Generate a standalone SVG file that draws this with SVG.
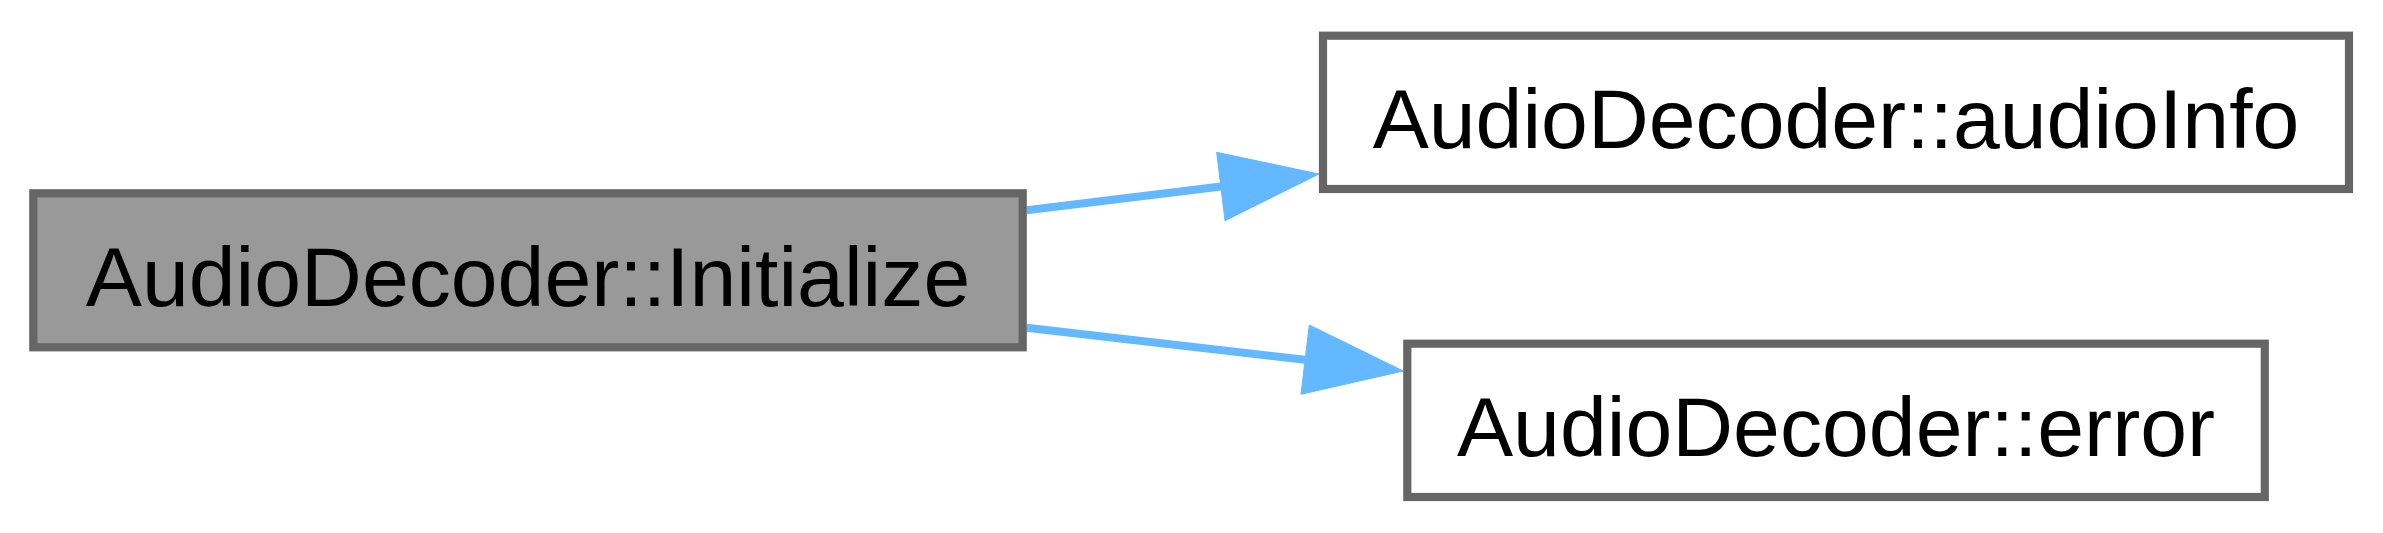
<svg xmlns="http://www.w3.org/2000/svg" width="2383" height="533" viewBox="0 0 2383 533">
<style>
.node rect{stroke:#666666;stroke-width:8.2}
.n1 rect{fill:#999999}
.n2 rect{fill:#ffffff}
.node text{font-family:"Liberation Sans",Arial,Helvetica,sans-serif;font-size:84.2px;fill:#000000;text-anchor:middle}
.edge path{fill:none;stroke:#63b8ff;stroke-width:8}
.edge polygon{fill:#63b8ff;stroke:#63b8ff;stroke-width:1}
</style>
<rect width="2383" height="533" fill="#ffffff"/>
<g id="connectors">
<g class="edge" id="edge1">
<path d="M1026.7,210.3 L1221,186.5"/>
<polygon points="1216.7,152.3 1319,174 1225,220.7"/>
</g>
<g class="edge" id="edge2">
<path d="M1026.7,327.7 L1305,359.8"/>
<polygon points="1309.3,325 1403.3,371 1301,394.3"/>
</g>
</g>
<g class="node n1" id="node1">
<rect x="33.3" y="193.3" width="989.4" height="154"/>
<text x="528" y="306">AudioDecoder::Initialize</text>
</g>
<g class="node n2" id="node2">
<rect x="1323" y="35.7" width="1026" height="153.3"/>
<text x="1836" y="148.3">AudioDecoder::audioInfo</text>
</g>
<g class="node n2" id="node3">
<rect x="1407.3" y="343.7" width="857.5" height="153.3"/>
<text x="1836" y="456">AudioDecoder::error</text>
</g>
</svg>
